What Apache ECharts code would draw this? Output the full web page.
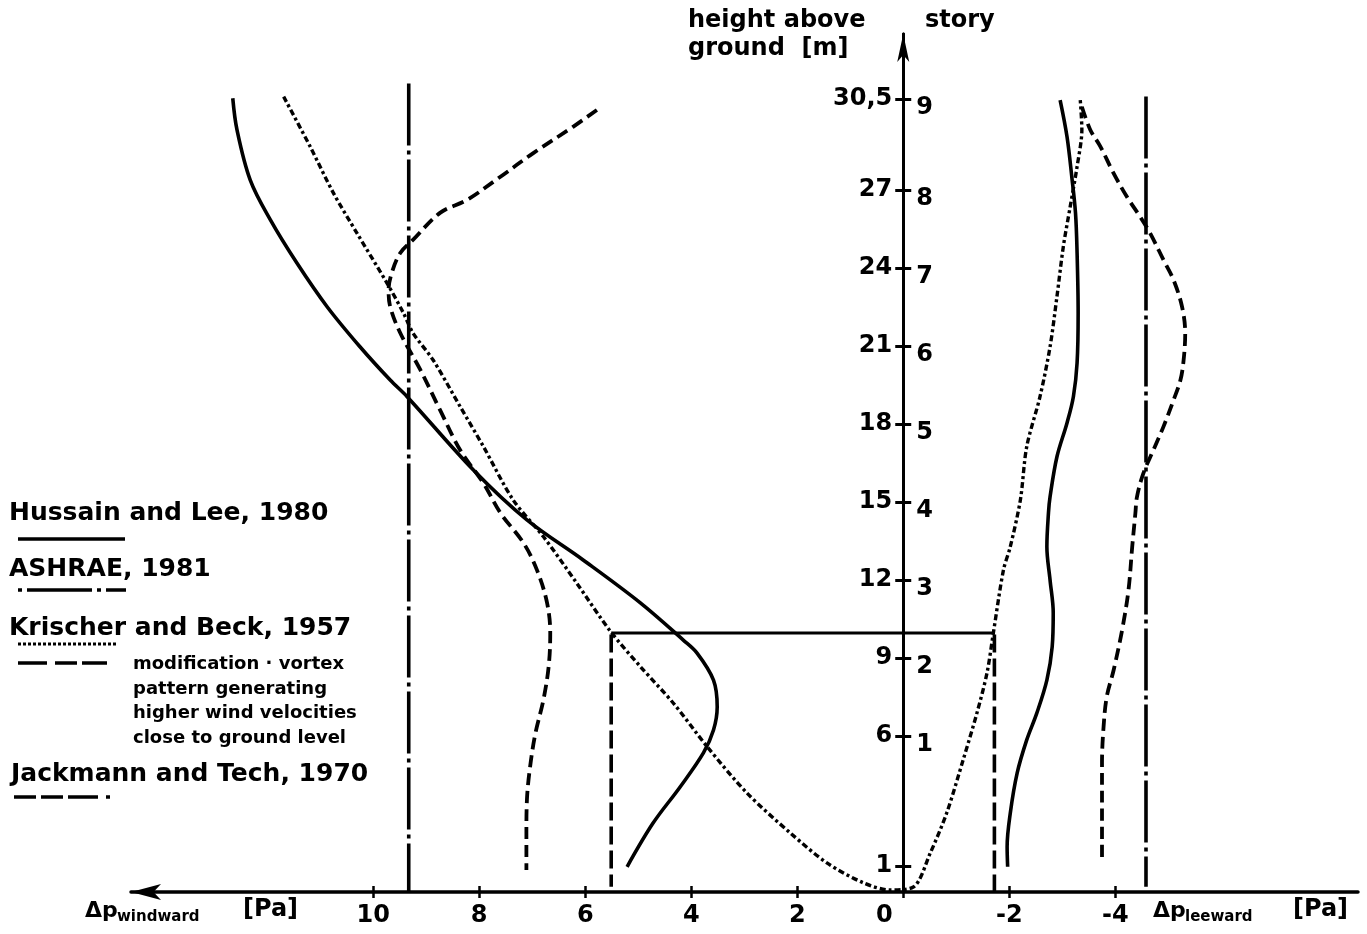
<!DOCTYPE html>
<html>
<head>
<meta charset="utf-8">
<script src="https://cdn.jsdelivr.net/npm/echarts@6/dist/echarts.min.js"></script>
<style>
html,body{margin:0;padding:0;background:#fff;}
#chart{width:1367px;height:934px;}
</style>
</head>
<body>
<div id="chart"></div>
<script>
// ---- tick values and labels ----
const xTicks = [10, 8, 6, 4, 2, 0, -2, -4];
const xTickLabels = ['10', '8', '6', '4', '2', '0', '-2', '-4'];
const heightTicks = [1, 6, 9, 12, 15, 18, 21, 24, 27, 30.5];
const heightLabels = ['1', '6', '9', '12', '15', '18', '21', '24', '27', '30,5'];
const storyTicks = [6, 9, 12, 15, 18, 21, 24, 27, 30.5];
const storyLabels = ['1', '2', '3', '4', '5', '6', '7', '8', '9'];

// ---- series data: [delta p (Pa), height (m)] ----
const hussainWindward = [
  [12.65,30.53],[12.57,29.31],[12.32,27.38],[11.94,25.85],[11.44,24.19],[10.87,22.51],
  [10.25,20.97],[9.68,19.69],[9.36,19.05],[8.11,16.23],[7.10,14.31],[6.04,12.77],
  [4.96,11.12],[4.15,9.69],[3.89,9.19],[3.58,8.15],[3.51,7.12],[3.58,6.23],[3.77,5.35],
  [4.21,4.04],[4.72,2.65],[5.21,0.97]
];
const hussainLeeward = [
  [-2.96,30.46],[-3.09,29.05],[-3.18,27.51],[-3.25,26.12],[-3.28,24.58],[-3.30,22.27],
  [-3.28,20.35],[-3.21,19.05],[-3.09,18.04],[-2.90,16.74],[-2.77,15.20],[-2.74,14.58],
  [-2.71,13.28],[-2.77,12.0],[-2.83,10.73],[-2.81,9.43],[-2.71,8.15],[-2.52,6.88],
  [-2.33,5.85],[-2.15,4.58],[-2.02,3.04],[-1.96,1.74],[-1.97,0.97]
];
const ashraeWindward = [[9.33,31.1],[9.33,0]];
const ashraeLeeward = [[-4.58,30.6],[-4.58,0.2]];
const krischer = [
  [11.69,30.59],[11.19,28.67],[10.75,26.88],[10.31,25.35],[9.74,23.42],[9.43,22.27],
  [9.25,21.5],[8.87,20.46],[8.36,18.67],[7.92,17.13],[7.36,15.08],[6.79,13.67],
  [6.16,11.88],[5.53,10.04],[4.96,8.67],[4.34,7.27],[3.70,5.59],[2.95,3.81],[2.13,2.27],
  [1.44,1.12],[0.75,0.35],[0.25,0.08],[-0.19,0.19],[-0.51,1.5],[-0.82,3.04],[-1.13,5.08],
  [-1.39,6.88],[-1.58,8.42],[-1.70,9.96],[-1.89,12.38],[-2.02,13.28],[-2.21,15.08],
  [-2.33,17.13],[-2.58,19.05],[-2.77,20.97],[-2.90,22.9],[-3.02,24.82],[-3.15,26.36],
  [-3.28,27.9],[-3.37,29.31],[-3.34,30.46]
];
const vortexWindward = [[5.51,9.9],[5.51,0.2]];
const vortexLeeward = [[-1.72,9.9],[-1.72,0]];
const vortexLevel = [[5.51,9.96],[-1.70,9.96]];
const jackmannWindward = [
  [5.78,30.08],[6.23,29.43],[6.98,28.42],[7.60,27.51],[8.23,26.62],[8.74,26.12],
  [9.25,25.08],[9.49,24.58],[9.65,23.81],[9.71,23.15],[9.68,22.51],[9.49,21.5],
  [9.11,20.08],[8.74,18.54],[8.36,17.0],[7.92,15.72],[7.60,14.58],[7.16,13.41],
  [6.91,12.38],[6.72,11.12],[6.66,9.96],[6.69,8.67],[6.79,7.38],[6.94,6.10],
  [7.04,4.82],[7.10,3.54],[7.11,2.26],[7.11,0.85]
];
const jackmannLeeward = [
  [-3.37,30.2],[-3.53,29.31],[-3.72,28.67],[-3.97,27.64],[-4.22,26.74],[-4.47,25.97],
  [-4.66,25.33],[-4.91,24.31],[-5.10,23.54],[-5.26,22.51],[-5.32,21.49],[-5.29,20.46],
  [-5.23,19.69],[-5.10,18.92],[-4.91,17.90],[-4.72,17.0],[-4.53,16.10],[-4.41,15.20],
  [-4.38,14.57],[-4.32,13.28],[-4.25,11.62],[-4.13,10.08],[-3.97,8.54],[-3.84,7.51],
  [-3.78,6.36],[-3.75,4.95],[-3.75,3.03],[-3.75,1.23]
];

const FONT = 'DejaVu Sans';
const chart = echarts.init(document.getElementById('chart'), null, {renderer: 'canvas'});

// layout of the plotting area (pixels)
const GRID_LEFT = 131, GRID_RIGHT = 9, GRID_TOP = 34, GRID_BOTTOM = 42;
const X_MIN = -8.58, X_MAX = 14.57, Y_MIN = 0, Y_MAX = 33;
const gridW = 1367 - GRID_LEFT - GRID_RIGHT;
const zeroPx = GRID_LEFT + gridW * (X_MAX - 0) / (X_MAX - X_MIN);
const leftOffset = -(zeroPx - GRID_LEFT);
const rightOffset = -(GRID_LEFT + gridW - zeroPx);

function line(name, data, style, smooth) {
  return {
    name: name, type: 'line', data: data, xAxisIndex: 0, yAxisIndex: 0,
    showSymbol: false, symbol: 'none', smooth: smooth === undefined ? 0.35 : smooth,
    silent: true, animation: false,
    lineStyle: Object.assign({color: '#000', cap: 'butt', join: 'round'}, style)
  };
}
const solid = {width: 3.6, type: 'solid'};
const dashDot = {width: 3.6, type: [62, 5, 4, 5]};
const dotted = {width: 3.4, type: [6, 3, 3, 3]};
const longDash = {width: 3.6, type: [18, 6]};
const shortDash = {width: 3.8, type: [12, 6]};

function txt(x, y, text, size, extra) {
  return Object.assign({
    type: 'text', x: x, y: y, silent: true,
    style: {text: text, fontFamily: FONT, fontWeight: 'bold', fontSize: size, fill: '#000',
            align: 'left', verticalAlign: 'middle'}
  }, extra || {});
}
function gline(x1, y1, x2, y2, dash, w) {
  return {type: 'line', silent: true, shape: {x1: x1, y1: y1, x2: x2, y2: y2},
    style: {stroke: '#000', lineWidth: w || 3.5, lineDash: dash || null}};
}

const labelStyle = {fontFamily: FONT, fontWeight: 'bold', fontSize: 24, color: '#000'};
const richBase = {fontFamily: FONT, fontWeight: 'bold', fontSize: 24, color: '#000'};

const option = {
  backgroundColor: '#fff',
  animation: false,
  grid: {left: GRID_LEFT, right: GRID_RIGHT, top: GRID_TOP, bottom: GRID_BOTTOM,
         containLabel: false, outerBoundsMode: 'none'},
  xAxis: [{
    type: 'value', inverse: true, min: X_MIN, max: X_MAX,
    axisLine: {show: true, onZero: false, symbol: ['arrow', 'none'], symbolSize: [12, 30],
      lineStyle: {color: '#000', width: 3.5}},
    axisTick: {show: true, customValues: xTicks, length: 6, inside: false,
      lineStyle: {color: '#000', width: 2.5}},
    axisLabel: Object.assign({show: true, customValues: xTicks, margin: 12,
      formatter: function (v) {
        const s = xTickLabels[xTicks.indexOf(v)];
        return v === 0 ? '{z|' + s + '}' : s;
      },
      rich: {z: Object.assign({padding: [0, 38, 0, 0]}, richBase)}
    }, labelStyle),
    splitLine: {show: false}
  }, {
    type: 'value', inverse: true, min: X_MIN, max: X_MAX, position: 'bottom',
    axisLine: {show: false, onZero: false},
    axisTick: {show: true, customValues: xTicks, length: 6, inside: true,
      lineStyle: {color: '#000', width: 2.5}},
    axisLabel: {show: false},
    splitLine: {show: false}
  }],
  yAxis: [{
    type: 'value', min: Y_MIN, max: Y_MAX, position: 'left', offset: leftOffset,
    axisLine: {show: true, onZero: false, symbol: ['none', 'arrow'],
      symbolSize: [9, 28], lineStyle: {color: '#000', width: 3}},
    axisTick: {show: true, customValues: heightTicks, length: 8,
      lineStyle: {color: '#000', width: 3}},
    axisLabel: Object.assign({show: true, customValues: heightTicks, margin: 11,
      formatter: function (v) { return heightLabels[heightTicks.indexOf(v)]; }}, labelStyle),
    splitLine: {show: false}
  }, {
    type: 'value', min: Y_MIN, max: Y_MAX, position: 'right', offset: rightOffset,
    axisLine: {show: true, onZero: false, symbol: ['none', 'none'],
      lineStyle: {color: '#000', width: 3}},
    axisTick: {show: true, customValues: heightTicks, length: 8,
      lineStyle: {color: '#000', width: 3}},
    axisLabel: Object.assign({show: true, customValues: storyTicks, margin: 13,
      formatter: function (v) { return '{s|' + storyLabels[storyTicks.indexOf(v)] + '}'; },
      rich: {s: Object.assign({padding: [18, 0, 0, 0]}, richBase)}
    }, labelStyle),
    splitLine: {show: false}
  }],
  series: [
    line('Hussain and Lee, 1980 (windward)', hussainWindward, solid),
    line('Hussain and Lee, 1980 (leeward)', hussainLeeward, solid),
    line('ASHRAE, 1981 (windward)', ashraeWindward, dashDot, false),
    line('ASHRAE, 1981 (leeward)', ashraeLeeward, dashDot, false),
    line('Krischer and Beck, 1957', krischer, dotted, 0.3),
    line('modification (windward)', vortexWindward, longDash, false),
    line('modification (leeward)', vortexLeeward, longDash, false),
    line('10 m level', vortexLevel, {width: 3, type: 'solid'}, false),
    line('Jackmann and Tech, 1970 (windward)', jackmannWindward, shortDash),
    line('Jackmann and Tech, 1970 (leeward)', jackmannLeeward, shortDash)
  ],
  graphic: [
    // axis titles
    txt(688, 21, 'height above', 24),
    txt(688, 49, 'ground  [m]', 24),
    txt(925, 21, 'story', 24),
    txt(85, 911, 'Δp', 22),
    txt(117, 917, 'windward', 15),
    txt(243, 910, '[Pa]', 24),
    txt(1153, 911, 'Δp', 22),
    txt(1185, 917, 'leeward', 15),
    txt(1293, 910, '[Pa]', 24),
    // legend
    txt(9, 513, 'Hussain and Lee, 1980', 25),
    gline(18, 539, 125, 539, null, 3.5),
    txt(9, 569, 'ASHRAE, 1981', 25),
    gline(18, 590, 126, 590, [4, 5, 65, 5, 4, 5, 20], 3.5),
    txt(9, 628, 'Krischer and Beck, 1957', 25),
    gline(18, 644, 118, 644, [3, 2], 3),
    gline(18, 663, 107, 663, [29, 8, 22, 5, 25], 3.5),
    txt(133, 664, 'modification · vortex', 18),
    txt(133, 689, 'pattern generating', 18),
    txt(133, 713, 'higher wind velocities', 18),
    txt(133, 738, 'close to ground level', 18),
    txt(11, 774, 'Jackmann and Tech, 1970', 25),
    gline(14, 797, 112, 797, [22, 5, 22, 5, 30, 8, 4], 3.5)
  ]
};
chart.setOption(option);
</script>
</body>
</html>
